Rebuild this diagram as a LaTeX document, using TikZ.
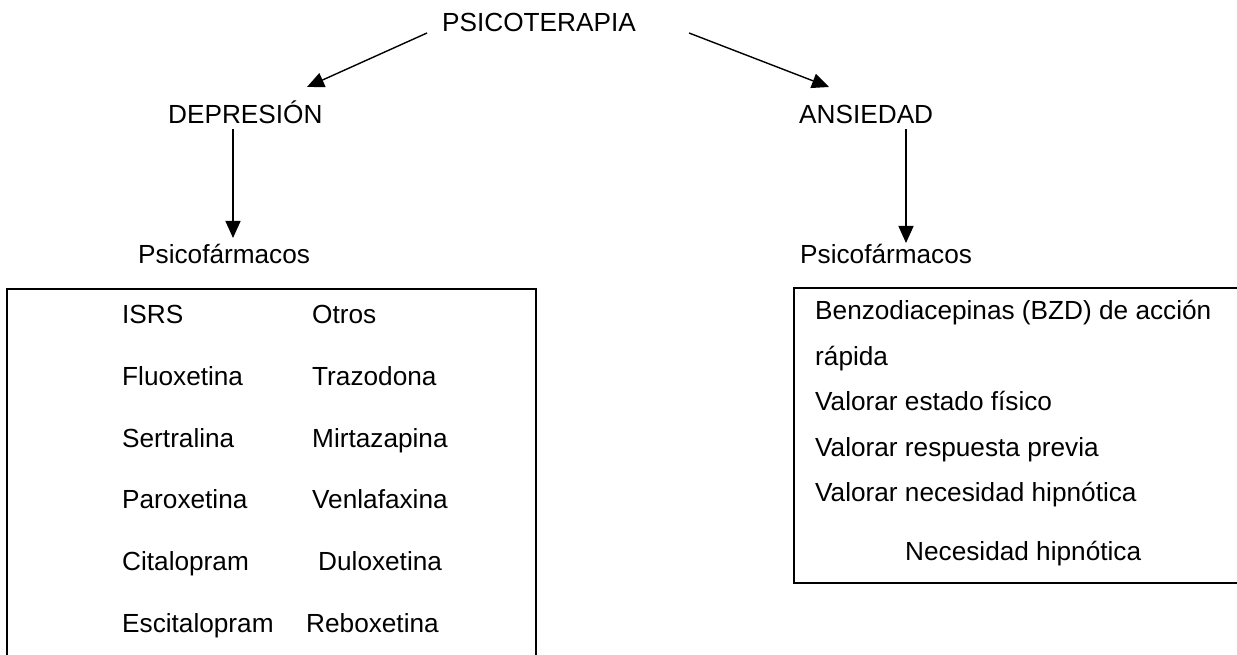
\documentclass[tikz,border=0pt]{standalone}
\usepackage{fontspec}
\setmainfont{Liberation Sans}
\usetikzlibrary{arrows.meta,calc}
\begin{document}
\begin{tikzpicture}[x=1pt,y=-1pt,
  lbl/.style={anchor=base west,inner sep=0pt,font=\fontsize{26.2}{30}\selectfont},
  arr/.style={line width=1.4pt,-{Triangle[length=17pt,width=15pt]}},
  box/.style={draw,line width=1.6pt}]
\useasboundingbox (0,0) rectangle (1237,655);
\clip (0,0) rectangle (1237,655);
% top level
\node[lbl] (psico) at (442,32) {PSICOTERAPIA};
\node[lbl] (dep) at (168,124) {DEPRESIÓN};
\node[lbl] (ans) at (799,124) {ANSIEDAD};
\node[lbl] (psiL) at (138,263) {Psicofármacos};
\node[lbl] (psiR) at (800,264) {Psicofármacos};
% connectors
\draw[arr] ($(psico.base west)+(-15,1)$) -- ($(dep.base west)+(139,-37)$);
\draw[arr] ($(psico.base east)+(53,1)$) -- ($(ans.base west)+(30,-37)$);
\draw[arr] ($(dep.base west)+(65,5)$) -- ($(psiL.base west)+(95,-25)$);
\draw[arr] ($(ans.base west)+(107,5)$) -- ($(psiR.base west)+(106,-21)$);
% left box
\draw[box] (7,289) rectangle (536,700);
\node[lbl] (isrs) at (122,323) {ISRS};
\node[lbl] (otros) at (312,323) {Otros};
\node[lbl] (fluox) at (122,385) {Fluoxetina};
\node[lbl] (traz) at (312,385) {Trazodona};
\node[lbl] (sert) at (122,447) {Sertralina};
\node[lbl] (mirt) at (312,447) {Mirtazapina};
\node[lbl] (parox) at (122,508) {Paroxetina};
\node[lbl] (venla) at (312,508) {Venlafaxina};
\node[lbl] (cital) at (122,570) {Citalopram};
\node[lbl] (dulox) at (318,570) {Duloxetina};
\node[lbl] (escit) at (122,632) {Escitalopram};
\node[lbl] (rebox) at (306,632) {Reboxetina};
% right box
\draw[box] (794,288) rectangle (1260,583);
\node[lbl] (bzd) at (815,319) {Benzodiacepinas (BZD) de acción};
\node[lbl] (rap) at (815,365) {rápida};
\node[lbl] (vest) at (815,410) {Valorar estado físico};
\node[lbl] (vresp) at (815,456) {Valorar respuesta previa};
\node[lbl] (vnec) at (815,501) {Valorar necesidad hipnótica};
\node[lbl] (nec) at (905,560) {Necesidad hipnótica};
\end{tikzpicture}
\end{document}
